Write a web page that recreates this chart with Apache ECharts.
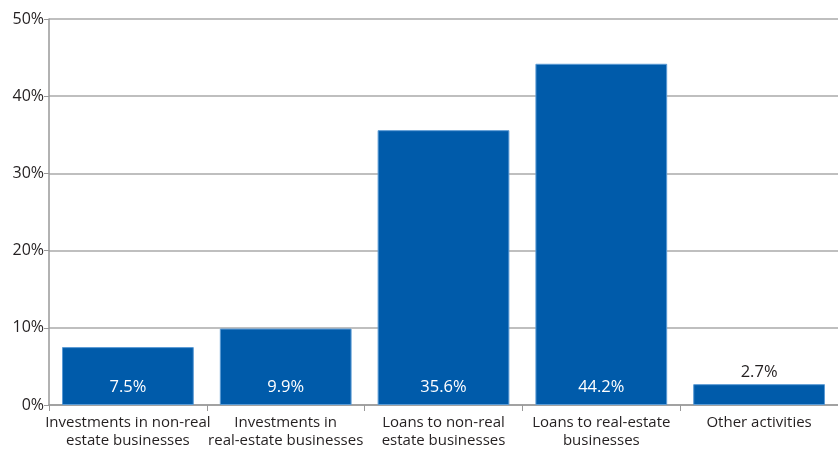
<!DOCTYPE html>
<html><head><meta charset="utf-8">
<script src="https://cdn.jsdelivr.net/npm/echarts@6/dist/echarts.min.js"></script>
<style>html,body{margin:0;padding:0;background:#fff}#c{width:838px;height:451px}</style>
</head><body><div id="c"></div>
<script>
const categories = ["Investments in non-real\nestate businesses", "Investments in\nreal-estate businesses", "Loans to non-real\nestate businesses", "Loans to real-estate\nbusinesses", "Other activities"];
const values = [7.5, 9.9, 35.6, 44.2, 2.7];
const labelInside = [true, true, true, true, false];
const yTicks = [0, 10, 20, 30, 40, 50];

const font = "'Open Sans', sans-serif";
const chart = echarts.init(document.getElementById('c'), null, {renderer: 'canvas'});
chart.setOption({
  animation: false,
  grid: {left: 49, right: -3, top: 19, bottom: 46, containLabel: false},
  xAxis: {
    type: 'category', data: categories,
    axisLine: {lineStyle: {color: '#999', width: 1.5}},
    axisTick: {show: true, alignWithLabel: false, length: 6, lineStyle: {color: '#999'}},
    axisLabel: {color: '#231F20', fontFamily: font, fontSize: 15, lineHeight: 18, margin: 9, interval: 0}
  },
  yAxis: {
    type: 'value', min: yTicks[0], max: yTicks[yTicks.length - 1], interval: 10,
    axisLine: {show: true, lineStyle: {color: '#999', width: 1.5}},
    axisTick: {show: true, length: 5, lineStyle: {color: '#999'}},
    splitLine: {lineStyle: {color: '#aaa', width: 1.5}},
    axisLabel: {color: '#231F20', fontFamily: font, fontSize: 16, margin: 5, formatter: v => v + '%'}
  },
  series: [{
    type: 'bar', barCategoryGap: '16.5%',
    data: values.map((v, i) => ({
      value: v,
      label: labelInside[i]
        ? {show: true, position: 'insideBottom', distance: 9, color: '#fff'}
        : {show: true, position: 'top', distance: 3, color: '#231F20'}
    })),
    itemStyle: {color: '#005BAA', borderColor: '#5B9BD5', borderWidth: 1},
    label: {fontFamily: font, fontSize: 16.5, formatter: p => p.value.toFixed(1) + '%'}
  }]
});
</script></body></html>
